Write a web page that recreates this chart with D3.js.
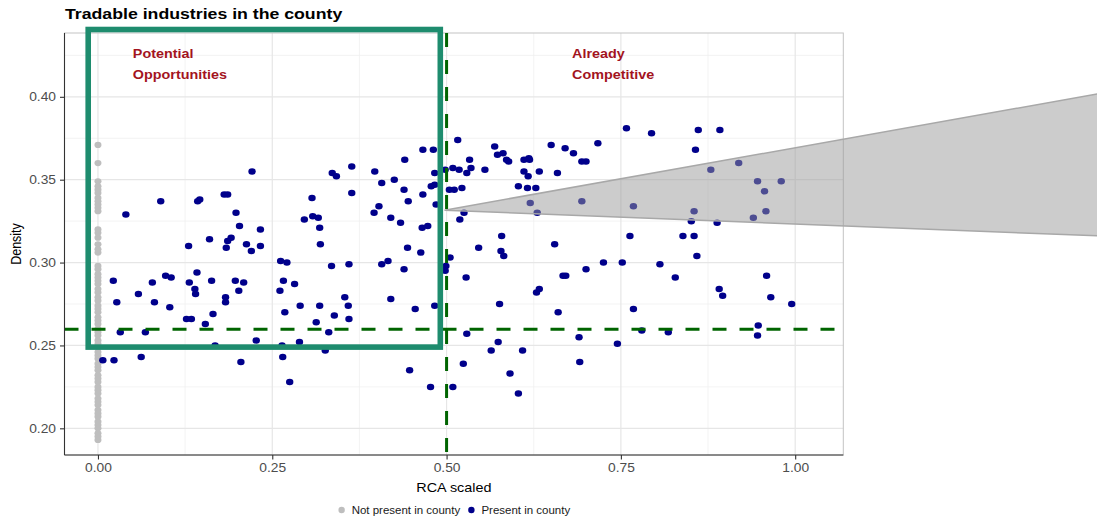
<!DOCTYPE html>
<html><head><meta charset="utf-8">
<script src="https://cdn.jsdelivr.net/npm/d3@7"></script>
<style>html,body{margin:0;padding:0;background:#fff;} svg{display:block;}</style>
</head><body><svg id="chart" width="1097" height="519"></svg>
<script>
// ---------- data ----------
const title = "Tradable industries in the county";
const xTitle = "RCA scaled";
const yTitle = "Density";
const legendLabels = ["Not present in county", "Present in county"];
const quadrantLabels = [["Potential", "Opportunities"], ["Already", "Competitive"]];
const quadrantRca = [0.05, 0.68];

const xTicks = [0, 0.25, 0.5, 0.75, 1];
const yTicks = [0.20, 0.25, 0.30, 0.35, 0.40];
const xMinor = [0.125, 0.375, 0.625, 0.875];
const yMinor = [0.225, 0.275, 0.325, 0.375, 0.425];

const rcaThreshold = 0.5;
const densityThreshold = 0.2597;

// industries not present (RCA = 0)
const absentDensity = [0.371,0.360,0.349,0.346,0.344,0.342,0.339,0.337,0.335,0.333,0.331,
  0.320,0.318,0.315,0.311,0.308,0.306,
  0.298,0.296,0.293,0.291,0.289,0.287,0.284,0.282,0.279,0.277,0.274,0.272,0.270,0.267,
  0.265,0.263,0.260,0.258,0.256,0.253,0.251,0.249,0.246,0.244,0.242,0.239,0.237,0.235,
  0.232,0.230,0.228,0.225,0.223,0.221,0.218,0.216,0.214,0.211,0.209,0.207,0.204,0.202,
  0.200,0.197,0.195,0.193];

// industries present in county
const presentRca = [
  0.007,0.023,0.062,0.022,0.027,0.032,0.040,0.058,0.068,0.078,
  0.081,0.090,0.097,0.105,0.103,0.127,0.134,0.130,0.131,0.139,
  0.140,0.142,0.143,0.146,0.154,0.160,0.163,0.165,0.168,0.181,
  0.186,0.184,0.186,0.191,0.183,0.183,0.197,0.198,0.202,0.203,
  0.205,0.209,0.213,0.220,0.221,0.227,0.233,0.233,0.261,0.262,
  0.264,0.265,0.266,0.268,0.271,0.275,0.282,0.289,0.290,0.296,
  0.307,0.308,0.313,0.316,0.318,0.318,0.319,0.326,0.331,0.335,
  0.336,0.339,0.342,0.354,0.359,0.360,0.360,0.364,0.364,0.396,
  0.397,0.403,0.407,0.407,0.416,0.420,0.420,0.425,0.434,0.439,
  0.439,0.440,0.444,0.445,0.447,0.455,0.463,0.465,0.466,0.466,
  0.473,0.477,0.478,0.481,0.483,0.483,0.483,0.485,0.499,0.498,
  0.505,0.498,0.504,0.509,0.509,0.511,0.516,0.518,0.519,0.522,
  0.524,0.525,0.529,0.528,0.529,0.533,0.535,0.546,0.555,0.564,
  0.569,0.573,0.574,0.576,0.578,0.579,0.581,0.582,0.586,0.589,
  0.591,0.603,0.603,0.609,0.611,0.611,0.618,0.619,0.617,0.616,
  0.620,0.628,0.630,0.633,0.629,0.633,0.650,0.655,0.659,0.660,
  0.667,0.671,0.670,0.682,0.690,0.691,0.694,0.694,0.700,0.700,
  0.717,0.725,0.745,0.752,0.758,0.763,0.768,0.768,0.780,0.794,
  0.806,0.818,0.828,0.839,0.851,0.855,0.855,0.857,0.859,0.861,
  0.879,0.888,0.891,0.892,0.896,0.919,0.940,0.946,0.946,0.947,
  0.956,0.958,0.959,0.965,0.980,0.995];
const presentDensity = [
  0.241,0.241,0.243,0.289,0.276,0.258,0.329,0.281,0.258,0.288,
  0.276,0.337,0.292,0.291,0.273,0.266,0.266,0.310,0.288,0.284,
  0.281,0.294,0.337,0.338,0.263,0.314,0.289,0.269,0.250,0.341,
  0.341,0.309,0.313,0.315,0.279,0.276,0.289,0.330,0.283,0.322,
  0.240,0.288,0.311,0.307,0.355,0.253,0.320,0.310,0.283,0.301,
  0.250,0.243,0.289,0.270,0.300,0.228,0.287,0.252,0.274,0.326,
  0.339,0.328,0.264,0.327,0.321,0.274,0.311,0.247,0.258,0.298,
  0.354,0.268,0.352,0.279,0.274,0.299,0.266,0.342,0.358,0.330,
  0.355,0.334,0.348,0.299,0.301,0.278,0.327,0.350,0.324,0.344,
  0.296,0.362,0.309,0.337,0.235,0.272,0.306,0.321,0.341,0.368,
  0.322,0.225,0.346,0.368,0.347,0.354,0.274,0.335,0.298,0.295,
  0.303,0.356,0.344,0.357,0.225,0.344,0.374,0.356,0.326,0.345,
  0.239,0.330,0.354,0.291,0.257,0.362,0.357,0.309,0.356,0.247,
  0.370,0.365,0.252,0.275,0.307,0.316,0.366,0.304,0.362,0.361,
  0.233,0.221,0.346,0.247,0.362,0.355,0.363,0.362,0.352,0.345,
  0.336,0.345,0.330,0.355,0.282,0.284,0.371,0.311,0.354,0.270,
  0.292,0.292,0.369,0.366,0.255,0.240,0.361,0.337,0.361,0.296,
  0.372,0.300,0.251,0.300,0.381,0.316,0.334,0.272,0.259,0.378,
  0.299,0.258,0.291,0.316,0.325,0.331,0.316,0.368,0.304,0.380,
  0.356,0.324,0.284,0.380,0.280,0.360,0.327,0.349,0.256,0.262,
  0.343,0.331,0.292,0.279,0.349,0.275];

// highlight box (potential opportunities) and callout wedge, in data units
const boxRca = [-0.014, 0.491];
const boxDensity = [0.249, 0.4406];
const calloutRca = [0.497, 1.44, 1.44];
const calloutDensity = [0.3316, 0.4022, 0.316];

// ---------- drawing ----------
const SX = 1.15; // horizontal stretch of glyphs in the reference
const FONT = "'Liberation Sans', Arial, Helvetica, sans-serif";
const svg = d3.select("#chart").style("font-family", FONT);
const W = 1097, H = 519;
svg.append("rect").attr("width", W).attr("height", H).attr("fill", "#fff");

const panel = {left: 64.5, right: 843.3, top: 33, bottom: 455};
const x = d3.scaleLinear().domain([-0.048, 1.069]).range([panel.left, panel.right]);
const y = d3.scaleLinear().domain([0.1839, 0.4385]).range([panel.bottom, panel.top]);

function txt(g, px, py, s) {
  return g.append("text").attr("transform", `translate(${px},${py}) scale(${SX},1)`).text(s);
}

// grid
const grid = svg.append("g");
grid.selectAll(".xmin").data(xMinor).join("line")
  .attr("x1", d => x(d)).attr("x2", d => x(d)).attr("y1", panel.top).attr("y2", panel.bottom)
  .attr("stroke", "#f0f0f0").attr("stroke-width", 0.8);
grid.selectAll(".ymin").data(yMinor.filter(v => y(v) > panel.top)).join("line")
  .attr("x1", panel.left).attr("x2", panel.right).attr("y1", d => y(d)).attr("y2", d => y(d))
  .attr("stroke", "#f0f0f0").attr("stroke-width", 0.8);
grid.selectAll(".xmaj").data(xTicks).join("line")
  .attr("x1", d => x(d)).attr("x2", d => x(d)).attr("y1", panel.top).attr("y2", panel.bottom)
  .attr("stroke", "#e6e6e6").attr("stroke-width", 1.2);
grid.selectAll(".ymaj").data(yTicks).join("line")
  .attr("x1", panel.left).attr("x2", panel.right).attr("y1", d => y(d)).attr("y2", d => y(d))
  .attr("stroke", "#e6e6e6").attr("stroke-width", 1.2);

// panel border (light) + axis lines (dark)
svg.append("rect").attr("x", panel.left).attr("y", panel.top)
  .attr("width", panel.right - panel.left).attr("height", panel.bottom - panel.top)
  .attr("fill", "none").attr("stroke", "#c4c4c4").attr("stroke-width", 1);

// points
const absent = absentDensity.map(d => ({rca: 0, density: d}));
const present = presentRca.map((r, i) => ({rca: r, density: presentDensity[i]}));
svg.append("g").selectAll("ellipse").data(absent).join("ellipse")
  .attr("cx", d => x(d.rca)).attr("cy", d => y(d.density))
  .attr("rx", 3.5).attr("ry", 3.1).attr("fill", "#bebebe");
svg.append("g").selectAll("ellipse").data(present).join("ellipse")
  .attr("cx", d => x(d.rca)).attr("cy", d => y(d.density))
  .attr("rx", 3.7).attr("ry", 3.25).attr("fill", "#00008b");

// threshold lines
svg.append("line").attr("x1", panel.left).attr("x2", panel.right)
  .attr("y1", y(densityThreshold)).attr("y2", y(densityThreshold))
  .attr("stroke", "#006400").attr("stroke-width", 3).attr("stroke-dasharray", "14,13");
svg.append("line").attr("x1", x(rcaThreshold)).attr("x2", x(rcaThreshold))
  .attr("y1", panel.top).attr("y2", panel.bottom)
  .attr("stroke", "#006400").attr("stroke-width", 3).attr("stroke-dasharray", "14,13");

// axes
const yAxis = d3.axisLeft(y).tickValues(yTicks).tickFormat(d3.format(".2f")).tickSize(4.5).tickPadding(4);
const gy = svg.append("g").attr("transform", `translate(${panel.left},0)`).call(yAxis);
const xAxis = d3.axisBottom(x).tickValues(xTicks).tickFormat(d3.format(".2f")).tickSize(4.5).tickPadding(4);
const gx = svg.append("g").attr("transform", `translate(0,${panel.bottom})`).call(xAxis);
[gx, gy].forEach(g => {
  g.select(".domain").remove();
  g.selectAll(".tick line").attr("stroke", "#333").attr("stroke-width", 1.1);
  g.selectAll(".tick text").attr("fill", "#4d4d4d").style("font-size", "12px").style("font-family", FONT);
});
gy.selectAll(".tick text").each(function () {
  const t = d3.select(this); const tx = +t.attr("x");
  t.attr("x", 0).attr("transform", `translate(${tx},0) scale(${SX},1)`);
});
gx.selectAll(".tick text").attr("transform", `scale(${SX},1)`);
svg.append("line").attr("x1", panel.left).attr("x2", panel.left).attr("y1", panel.top).attr("y2", panel.bottom)
  .attr("stroke", "#333").attr("stroke-width", 1.1);
svg.append("line").attr("x1", panel.left).attr("x2", panel.right).attr("y1", panel.bottom).attr("y2", panel.bottom)
  .attr("stroke", "#333").attr("stroke-width", 1.1);

// highlight box
svg.append("rect").attr("x", x(boxRca[0])).attr("y", y(boxDensity[1]))
  .attr("width", x(boxRca[1]) - x(boxRca[0])).attr("height", y(boxDensity[0]) - y(boxDensity[1]))
  .attr("fill", "none").attr("stroke", "#1e8c6e").attr("stroke-width", 5.6);

// quadrant labels
quadrantLabels.forEach((lines, i) => {
  lines.forEach((s, j) => {
    txt(svg, x(quadrantRca[i]), 57.5 + j * 21.5, s)
      .attr("fill", "#a3141e").style("font-size", "12.5px").style("font-weight", "bold");
  });
});

// callout wedge
const callout = calloutRca.map((r, i) => [x(r), y(calloutDensity[i])]);
svg.append("path").attr("d", d3.line()(callout) + "Z")
  .attr("fill", "#9a9a9a").attr("fill-opacity", 0.5)
  .attr("stroke", "#a8a8a8").attr("stroke-width", 1.5);

// titles
txt(svg, 65, 18.5, title).style("font-size", "15.4px").style("font-weight", "bold").attr("fill", "#000");
txt(svg, (panel.left + panel.right) / 2, 492, xTitle).attr("text-anchor", "middle")
  .style("font-size", "12.5px").attr("fill", "#000");
svg.append("text").attr("transform", `translate(21,${(panel.top + panel.bottom) / 2}) rotate(-90) scale(1,${SX})`)
  .attr("text-anchor", "middle").style("font-size", "12.5px").attr("fill", "#000").text(yTitle);

// legend
const legColors = ["#bebebe", "#00008b"];
const lg = svg.append("g");
const items = legendLabels.map((s, i) => {
  const t = txt(lg, 0, 0, s).style("font-size", "10px").attr("fill", "#1a1a1a");
  return {t, w: t.node().getComputedTextLength() * SX, c: legColors[i]};
});
const dotR = 3.2, gapDot = 10, gapItem = 8;
const total = items.reduce((a, it) => a + dotR + gapDot + it.w, 0) + gapItem * (items.length - 1) + dotR;
let cx = (panel.left + panel.right) / 2 + 2 - total / 2 + dotR;
const legY = 510;
items.forEach(it => {
  lg.append("circle").attr("cx", cx).attr("cy", legY).attr("r", dotR).attr("fill", it.c);
  it.t.attr("transform", `translate(${cx + gapDot},${legY + 3.5}) scale(${SX},1)`);
  cx += gapDot + it.w + gapItem + dotR;
});
</script></body></html>
